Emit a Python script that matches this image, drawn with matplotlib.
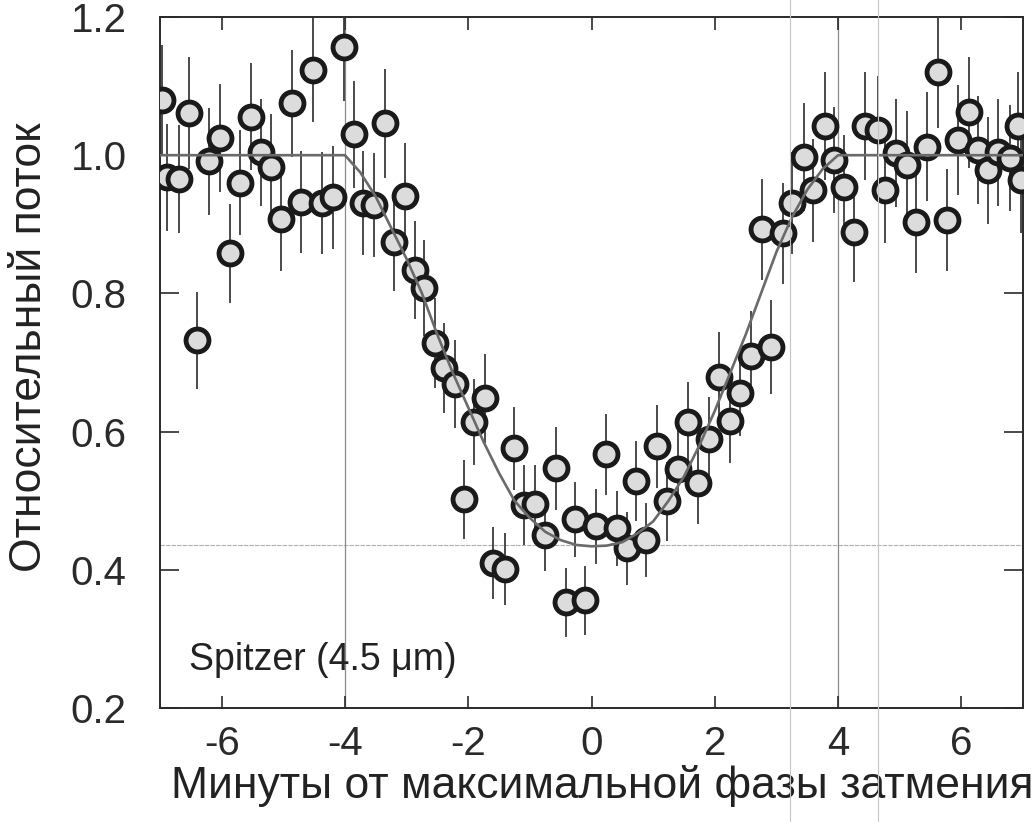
import numpy as np
import matplotlib.pyplot as plt
from matplotlib.lines import Line2D

plt.rcParams['font.family'] = ['Liberation Sans', 'DejaVu Sans']
plt.rcParams['axes.unicode_minus'] = False

# measured points (minutes from mid-eclipse, relative flux, 1-sigma)
t_min = [-6.97, -6.89, -6.69, -6.53, -6.40, -6.21, -6.03, -5.87, -5.70, -5.53,
         -5.36, -5.20, -5.04, -4.86, -4.72, -4.52, -4.38, -4.20, -4.02, -3.86,
         -3.71, -3.53, -3.35, -3.21, -3.03, -2.87, -2.71, -2.54, -2.40, -2.22,
         -2.07, -1.90, -1.73, -1.59, -1.41, -1.25, -1.10, -0.91, -0.76, -0.58,
         -0.42, -0.26, -0.10, 0.08, 0.24, 0.41, 0.57, 0.73, 0.89, 1.07,
         1.23, 1.41, 1.57, 1.72, 1.91, 2.07, 2.24, 2.41, 2.58, 2.76,
         2.92, 3.11, 3.26, 3.44, 3.60, 3.78, 3.94, 4.10, 4.26, 4.44,
         4.64, 4.76, 4.94, 5.12, 5.27, 5.45, 5.62, 5.77, 5.95, 6.13,
         6.27, 6.43, 6.60, 6.79, 6.92, 6.97]
flux = [1.080, 0.968, 0.965, 1.061, 0.732, 0.991, 1.025, 0.858, 0.960, 1.056,
        1.004, 0.983, 0.907, 1.075, 0.932, 1.123, 0.931, 0.939, 1.156, 1.030,
        0.931, 0.928, 1.046, 0.874, 0.941, 0.834, 0.808, 0.728, 0.692, 0.669,
        0.502, 0.614, 0.648, 0.410, 0.401, 0.576, 0.494, 0.495, 0.450, 0.547,
        0.353, 0.473, 0.356, 0.463, 0.567, 0.460, 0.431, 0.528, 0.443, 0.579,
        0.499, 0.546, 0.614, 0.525, 0.590, 0.679, 0.615, 0.656, 0.709, 0.893,
        0.722, 0.887, 0.931, 0.997, 0.949, 1.042, 0.993, 0.954, 0.889, 1.042,
        1.036, 0.949, 1.003, 0.986, 0.903, 1.012, 1.120, 0.906, 1.022, 1.062,
        1.007, 0.978, 1.004, 0.996, 1.042, 0.964]
flux_err = [0.080, 0.077, 0.078, 0.081, 0.070, 0.077, 0.078, 0.072, 0.076, 0.078,
            0.078, 0.077, 0.074, 0.077, 0.074, 0.075, 0.074, 0.075, 0.078, 0.078,
            0.075, 0.075, 0.079, 0.071, 0.076, 0.071, 0.069, 0.065, 0.065, 0.064,
            0.057, 0.062, 0.064, 0.052, 0.052, 0.060, 0.058, 0.057, 0.052, 0.060,
            0.050, 0.054, 0.050, 0.054, 0.059, 0.054, 0.053, 0.058, 0.054, 0.060,
            0.057, 0.058, 0.058, 0.059, 0.060, 0.065, 0.060, 0.062, 0.065, 0.073,
            0.068, 0.073, 0.074, 0.078, 0.075, 0.078, 0.077, 0.075, 0.073, 0.078,
            0.078, 0.076, 0.078, 0.078, 0.074, 0.079, 0.080, 0.074, 0.079, 0.080,
            0.078, 0.077, 0.077, 0.077, 0.078, 0.077]

# model light curve
model_t = [-7, -4, -3.75, -3.5, -3.25, -3, -2.75, -2.5, -2.25, -2, -1.75, -1.5,
           -1.25, -1, -0.75, -0.5, -0.25, 0, 0.25, 0.5, 0.75, 1, 1.25, 1.5,
           1.75, 2, 2.25, 2.5, 2.75, 3, 3.25, 3.5, 3.75, 4, 7]
model_f = [1.0, 1.0, 0.975, 0.94, 0.895, 0.85, 0.80, 0.74, 0.685, 0.635, 0.585, 0.54,
           0.50, 0.475, 0.455, 0.443, 0.436, 0.434, 0.435, 0.44, 0.453, 0.47, 0.50, 0.535,
           0.58, 0.63, 0.685, 0.74, 0.80, 0.86, 0.91, 0.95, 0.98, 1.0, 1.0]

contacts = [-4, 4]
min_level = 0.436

fig = plt.figure(figsize=(10.33, 8.22), dpi=100)
ax = fig.add_axes([160 / 1033, 1 - 708 / 822, 863 / 1033, 691 / 822])

ax.axhline(min_level, color='#b0b0b0', lw=0.8, ls=(0, (4, 1)), zorder=1, clip_on=False)
for c in contacts:
    ax.axvline(c, color='#8a8a8a', lw=0.9, zorder=1)

ax.errorbar(t_min, flux, yerr=flux_err, fmt='o', ms=16.5, mfc='#dcdcdc', mec='#1a1a1a',
            mew=3.5, ecolor='#3c3c3c', elinewidth=1.3, capsize=0, zorder=3)
ax.plot(model_t, model_f, color='#6a6a6a', lw=1.9, zorder=4)

ax.set_xlim(-7, 7)
ax.set_ylim(0.2, 1.2)
ax.set_xticks([-6, -4, -2, 0, 2, 4, 6])
ax.set_yticks([0.2, 0.4, 0.6, 0.8, 1.0, 1.2])
ax.set_yticklabels(['0.2', '0.4', '0.6', '0.8', '1.0', '1.2'])

for s in ax.spines.values():
    s.set_linewidth(1.4)
    s.set_color('#2a2a2a')

ax.tick_params(axis='both', which='major', direction='in', length=9, width=1.2,
               color='#2a2a2a', labelsize=29, labelcolor='#2a2a2a',
               top=True, right=True)
ax.tick_params(axis='y', length=14, pad=24)
ax.tick_params(axis='x', pad=12)

ax.set_xlabel('Минуты от максимальной фазы затмения', fontsize=32, color='#222222')
ax.xaxis.set_label_coords(0.512, -0.083)
ax.set_ylabel('Относительный поток', fontsize=32, color='#222222')
ax.yaxis.set_label_coords(-0.127, 0.522)

ax.text(-6.53, 0.269, 'Spitzer (4.5 μm)', fontsize=27, color='#222222',
        va='center', zorder=5)

# faint scanner lines across the page
for xp in [790, 878]:
    fig.add_artist(Line2D([xp / 1033, xp / 1033], [0, 1], transform=fig.transFigure,
                          color='#c4c4c4', lw=0.8))

fig.savefig('out.png', dpi=100)
